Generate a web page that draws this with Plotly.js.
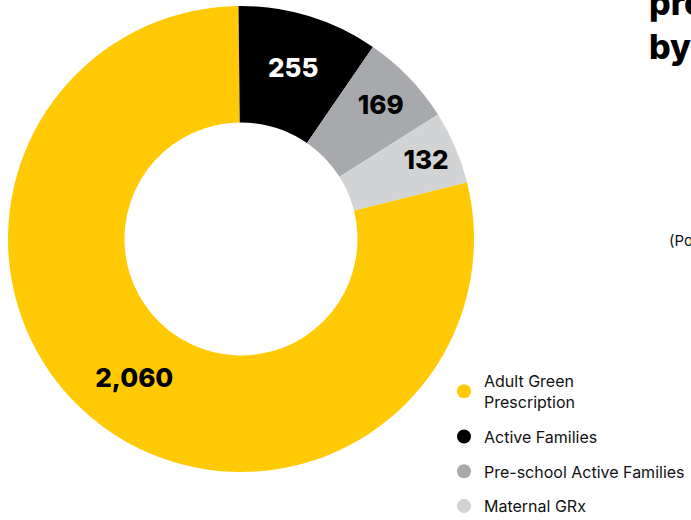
<!DOCTYPE html>
<html>
<head>
<meta charset="utf-8">
<script src="https://cdn.plot.ly/plotly-3.0.1.min.js"></script>
<style>html,body{margin:0;padding:0;background:#fff;}#chart{width:691px;height:520px;}</style>
</head>
<body>
<div id="chart"></div>
<script>
// Data
const categories = ['Adult Green Prescription', 'Active Families', 'Pre-school Active Families', 'Maternal GRx'];
const legendLabels = ['Adult Green<br>Prescription', 'Active Families', 'Pre-school Active Families', 'Maternal GRx'];
const participants = [2060, 255, 169, 132];
const valueLabels = ['2,060', '255', '169', '132'];
const sliceColors = ['#FFC905', '#000000', '#A7A9AC', '#D1D3D4'];
const labelColors = ['#000000', '#FFFFFF', '#000000', '#000000'];

const FONT = 'Inter, "Open Sans", Arial, sans-serif';

const traces = [{
  type: 'pie',
  labels: categories,
  values: participants,
  text: valueLabels,
  textinfo: 'text',
  textposition: 'inside',
  insidetextorientation: 'horizontal',
  textfont: {family: FONT, size: 26, color: labelColors, weight: 800},
  marker: {colors: sliceColors, line: {width: 0}},
  sort: false,
  direction: 'clockwise',
  rotation: 75.9,
  hole: 0.5,
  showlegend: false,
  hoverinfo: 'none',
  domain: {x: [8/691, 474/691], y: [48/520, 514/520]}
}];

categories.forEach((c, i) => {
  traces.push({
    type: 'scatter',
    mode: 'markers',
    x: [null], y: [null],
    name: legendLabels[i],
    legendgroup: 'g' + i,
    marker: {color: sliceColors[i], size: 14, symbol: 'circle'},
    hoverinfo: 'none'
  });
});

const layout = {
  width: 691, height: 520,
  margin: {l: 0, r: 0, t: 0, b: 0, autoexpand: false},
  paper_bgcolor: '#ffffff',
  plot_bgcolor: '#ffffff',
  xaxis: {visible: false},
  yaxis: {visible: false},
  showlegend: true,
  legend: {
    x: 444/691, y: (520 - 364)/520, xanchor: 'left', yanchor: 'top',
    font: {family: FONT, size: 16, color: '#111111'},
    traceorder: 'grouped', tracegroupgap: 11,
    bgcolor: 'rgba(0,0,0,0)'
  },
  annotations: [
    {xref: 'paper', yref: 'paper', x: 647/691, y: 1 + 20/520, xanchor: 'left', yanchor: 'top',
     text: 'programmes<br>by programme', align: 'left', showarrow: false,
     font: {family: FONT, size: 34, color: '#000000', weight: 800}},
    {xref: 'paper', yref: 'paper', x: 667/691, y: (520 - 240)/520, xanchor: 'left', yanchor: 'middle',
     text: '(Population)', align: 'left', showarrow: false,
     font: {family: FONT, size: 15, color: '#111111'}}
  ]
};

Plotly.newPlot('chart', traces, layout, {displayModeBar: false, staticPlot: true});
</script>
</body>
</html>
